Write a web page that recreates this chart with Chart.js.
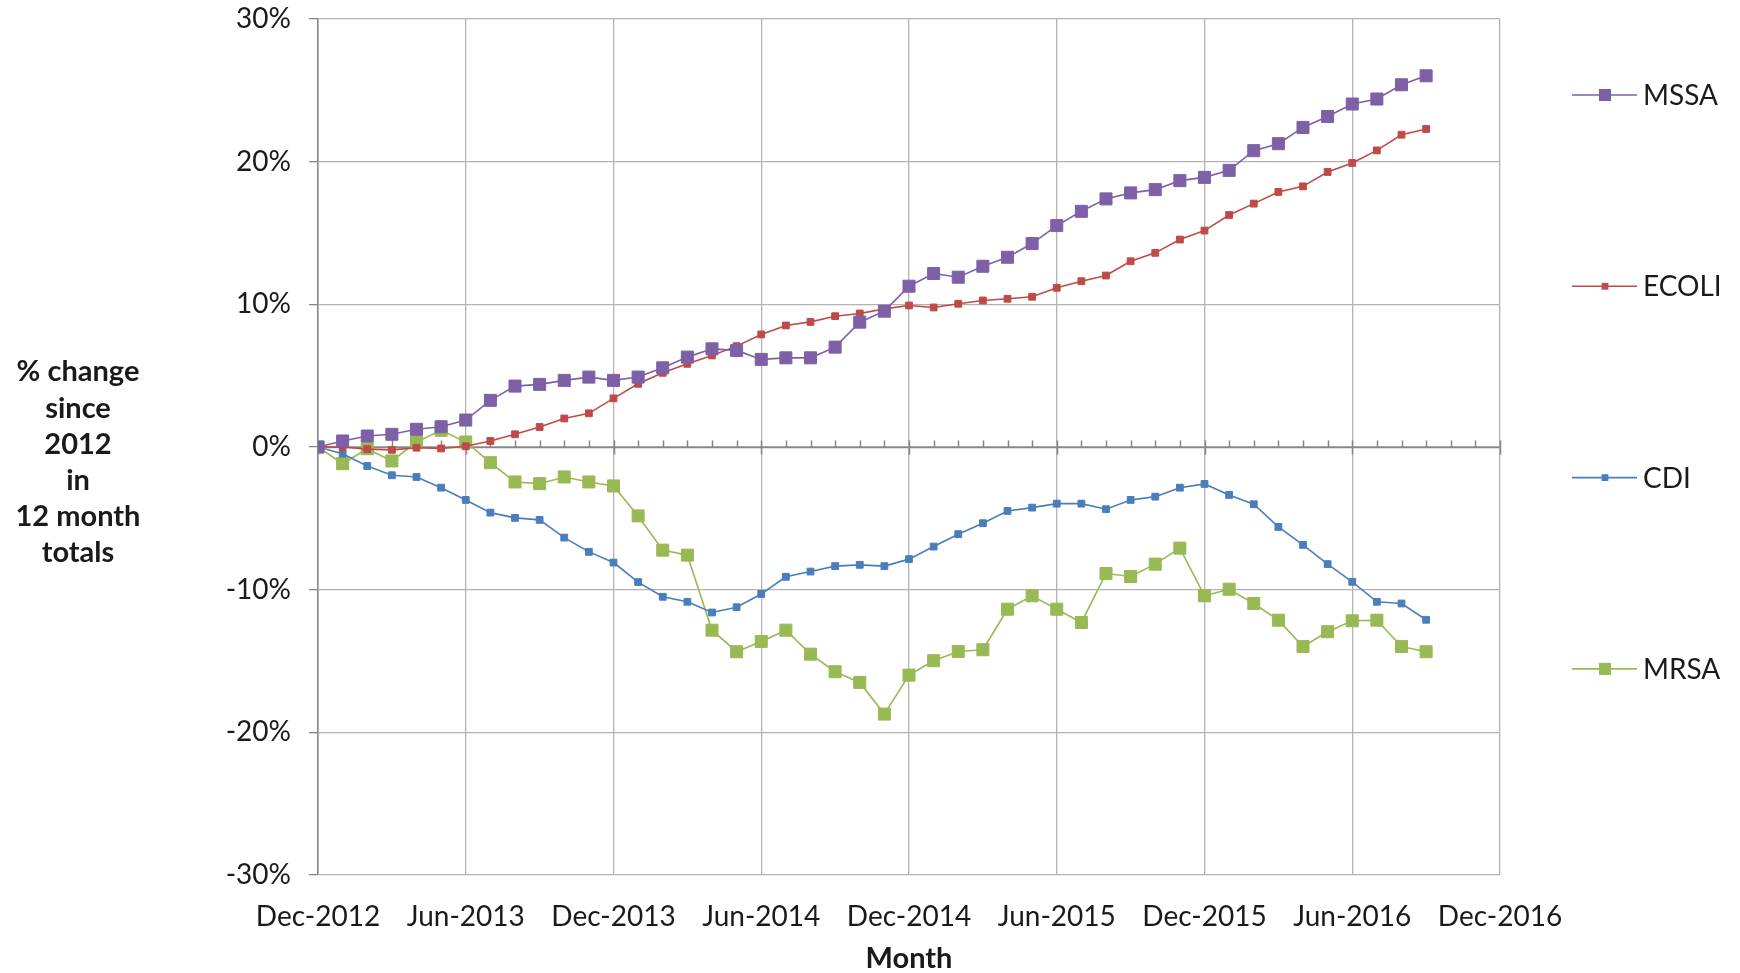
<!DOCTYPE html>
<html>
<head>
<meta charset="utf-8">
<script src="https://cdn.jsdelivr.net/npm/chart.js@4.4.1/dist/chart.umd.min.js"></script>
<style>
  html, body { margin: 0; padding: 0; background: #fff; }
</style>
</head>
<body>
<canvas id="trendChart" width="1740" height="973"></canvas>
<script>
// x axis labels, one every 6 months starting Dec-2012
var tickLabels = ['Dec-2012', 'Jun-2013', 'Dec-2013', 'Jun-2014', 'Dec-2014',
                  'Jun-2015', 'Dec-2015', 'Jun-2016', 'Dec-2016'];
var seriesNames = ['MSSA', 'ECOLI', 'CDI', 'MRSA'];
var yTitleLines = ['% change', 'since', '2012', 'in', '12 month', 'totals'];

// % change in rolling 12 month totals, monthly from Dec-2012
var mssa = [0, 0.42, 0.77, 0.89, 1.24, 1.42, 1.89, 3.27, 4.27, 4.39, 4.67, 4.90,
            4.67, 4.90, 5.55, 6.30, 6.88, 6.77, 6.14, 6.25, 6.25, 7.0, 8.75, 9.52,
            11.27, 12.16, 11.90, 12.67, 13.30, 14.26, 15.52, 16.52, 17.39, 17.81, 18.04, 18.67,
            18.90, 19.39, 20.77, 21.26, 22.40, 23.17, 24.04, 24.39, 25.39, 26.02];
var ecoli = [0, 0.0, -0.15, -0.2, -0.05, -0.1, 0.05, 0.42, 0.89, 1.4, 2.0, 2.36,
             3.41, 4.43, 5.2, 5.83, 6.42, 7.07, 7.89, 8.52, 8.77, 9.17, 9.36, 9.68,
             9.92, 9.78, 10.04, 10.27, 10.39, 10.53, 11.16, 11.62, 12.02, 13.02, 13.61, 14.54,
             15.17, 16.26, 17.06, 17.88, 18.27, 19.28, 19.91, 20.79, 21.89, 22.29];
var cdi = [0, -0.47, -1.33, -1.98, -2.10, -2.85, -3.71, -4.60, -4.97, -5.11, -6.35, -7.35,
           -8.10, -9.47, -10.50, -10.85, -11.60, -11.23, -10.3, -9.10, -8.73, -8.35, -8.26, -8.35,
           -7.86, -6.98, -6.11, -5.34, -4.48, -4.25, -3.97, -3.97, -4.36, -3.71, -3.48, -2.85,
           -2.59, -3.36, -4.01, -5.60, -6.86, -8.21, -9.45, -10.85, -10.97, -12.11];
var mrsa = [0, -1.17, -0.12, -0.98, 0.35, 1.17, 0.35, -1.10, -2.45, -2.57, -2.10, -2.45,
            -2.73, -4.83, -7.23, -7.58, -12.84, -14.35, -13.63, -12.84, -14.52, -15.75, -16.50, -18.72,
            -15.99, -14.98, -14.33, -14.21, -11.37, -10.43, -11.37, -12.30, -8.87, -9.08, -8.21, -7.09,
            -10.43, -9.97, -10.97, -12.14, -13.98, -12.95, -12.18, -12.14, -13.98, -14.35];

var FONT = 'Lato, "Open Sans", sans-serif';
var axisColor = '#878787';
var gridColor = '#b3b3b3';

function toPoints(arr) {
  return arr.map(function (v, i) { return { x: i, y: v }; });
}

function series(label, values, color, radius) {
  return {
    label: label,
    data: toPoints(values),
    borderColor: color,
    backgroundColor: color,
    borderWidth: 1.6,
    pointStyle: 'rect',
    pointRadius: radius,
    pointBorderWidth: 1,
    pointBorderColor: color,
    pointBackgroundColor: color,
    tension: 0
  };
}

// axis through 0% with monthly tick marks
var zeroAxis = {
  id: 'zeroAxis',
  beforeDatasetsDraw: function (chart) {
    var ctx = chart.ctx, x = chart.scales.x, y = chart.scales.y;
    var y0 = Math.round(y.getPixelForValue(0)) + 0.5;
    ctx.save();
    ctx.strokeStyle = axisColor;
    ctx.lineWidth = 1.5;
    ctx.beginPath();
    ctx.moveTo(chart.chartArea.left, y0);
    ctx.lineTo(chart.chartArea.right, y0);
    for (var m = 0; m <= 48; m++) {
      var px = Math.round(x.getPixelForValue(m)) + 0.5;
      ctx.moveTo(px, y0 - 7);
      ctx.lineTo(px, m % 6 === 0 ? y0 + 7 : y0);
    }
    ctx.stroke();
    ctx.restore();
  }
};

// horizontal y title plus legend on the right
var sideText = {
  id: 'sideText',
  afterDraw: function (chart) {
    var ctx = chart.ctx;
    ctx.save();
    ctx.fillStyle = '#1a1a1a';
    ctx.font = 'bold 29px ' + FONT;
    ctx.textAlign = 'center';
    ctx.textBaseline = 'middle';
    yTitleLines.forEach(function (line, i) {
      ctx.fillText(line, 78, 372 + i * 36.2);
    });

    ctx.font = '28px ' + FONT;
    ctx.textAlign = 'left';
    chart.data.datasets.forEach(function (ds, i) {
      var ly = 95 + i * 191.3;
      ctx.strokeStyle = ds.borderColor;
      ctx.lineWidth = 1.6;
      ctx.beginPath();
      ctx.moveTo(1572, ly);
      ctx.lineTo(1637, ly);
      ctx.stroke();
      var s = ds.pointRadius * Math.SQRT2;
      ctx.fillStyle = ds.backgroundColor;
      ctx.fillRect(1605 - s / 2, ly - s / 2, s, s);
      ctx.fillStyle = '#1a1a1a';
      ctx.fillText(ds.label, 1643, ly + 1);
    });
    ctx.restore();
  }
};

new Chart(document.getElementById('trendChart'), {
  type: 'line',
  data: {
    datasets: [
      series(seriesNames[0], mssa, '#7d60a6', 8.5),
      series(seriesNames[1], ecoli, '#be4b48', 4.8),
      series(seriesNames[2], cdi, '#4a7ebb', 4.8),
      series(seriesNames[3], mrsa, '#98b954', 8.5)
    ]
  },
  options: {
    responsive: false,
    animation: false,
    layout: { padding: { left: 150, right: 240, top: 19, bottom: 0 } },
    plugins: {
      legend: { display: false },
      tooltip: { enabled: false }
    },
    scales: {
      x: {
        type: 'linear',
        min: 0,
        max: 48,
        afterFit: function (s) { s.height = 98; },
        ticks: {
          stepSize: 6,
          autoSkip: false,
          maxRotation: 0,
          padding: 25,
          color: '#1a1a1a',
          font: { family: FONT, size: 28 },
          callback: function (v) { return tickLabels[v / 6]; }
        },
        grid: { color: gridColor, lineWidth: 1.3, drawTicks: false },
        border: { display: false },
        title: {
          display: true,
          text: 'Month',
          color: '#1a1a1a',
          padding: { top: 0, bottom: 0 },
          font: { family: FONT, size: 29, weight: 'bold', lineHeight: 1.0 }
        }
      },
      y: {
        min: -30,
        max: 30,
        afterFit: function (s) {
          s.width = 168;
          // let the top label overhang into the layout padding
          s.paddingTop = 0;
          s.paddingBottom = 0;
        },
        ticks: {
          stepSize: 10,
          padding: 18,
          color: '#1a1a1a',
          font: { family: FONT, size: 28 },
          callback: function (v) { return v + '%'; }
        },
        grid: { color: gridColor, lineWidth: 1.3, tickLength: 9, tickColor: axisColor },
        border: { display: true, color: axisColor, width: 1.5 }
      }
    }
  },
  plugins: [zeroAxis, sideText]
});
</script>
</body>
</html>
